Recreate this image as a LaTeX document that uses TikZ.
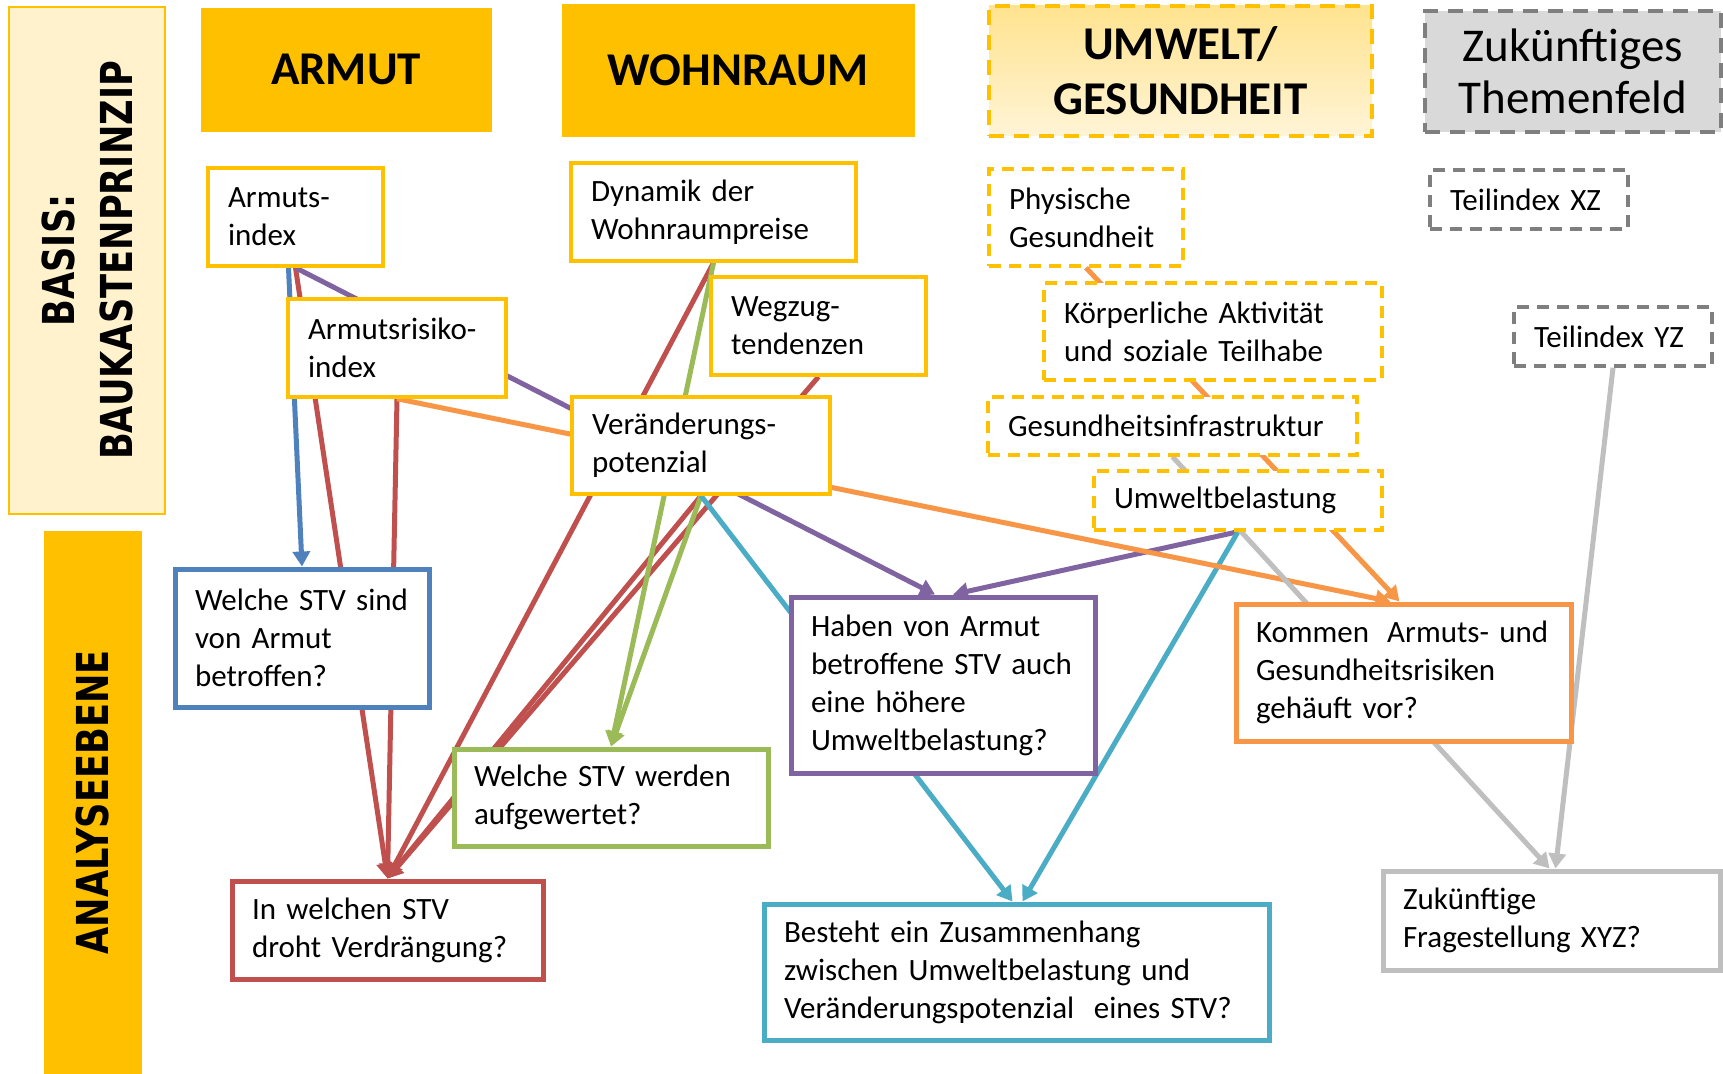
\documentclass[tikz,border=0pt]{standalone}
\usepackage{fontspec}
\setmainfont{Carlito}
\newfontfamily\seitenfont{DejaVu Sans}[FakeStretch=0.8]
\usetikzlibrary{arrows.meta}

\definecolor{cGold}{HTML}{FFC000}
\definecolor{cBasis}{HTML}{FFF2CC}
\definecolor{cUmweltA}{HTML}{FFE38F}
\definecolor{cUmweltB}{HTML}{FFF4D6}
\definecolor{cGrauFill}{HTML}{D9D9D9}
\definecolor{cGrauDash}{HTML}{7F7F7F}
\definecolor{cGrau}{HTML}{BFBFBF}
\definecolor{cBlau}{HTML}{4F81BD}
\definecolor{cRot}{HTML}{C0504D}
\definecolor{cGruen}{HTML}{9BBB59}
\definecolor{cLila}{HTML}{8064A2}
\definecolor{cTuerkis}{HTML}{4BACC6}
\definecolor{cOrange}{HTML}{F79646}

\pgfdeclarelayer{background}
\pgfsetlayers{background,main}

\begin{document}
\begin{tikzpicture}[x=0.5pt,y=-0.5pt,>={Triangle[length=7.5pt,width=8.5pt]}]

\tikzstyle{kopf}=[fill=cGold,draw=cGold,align=center,font=\fontsize{23.5}{27.5}\selectfont\bfseries]
\tikzstyle{seite}=[rotate=90,align=center,font=\seitenfont\bfseries\fontsize{22}{29}\selectfont]
\tikzstyle{teil}=[draw=cGold,fill=white,line width=1.75pt,inner xsep=10pt,inner ysep=0pt,align=left,font=\fontsize{15.5}{19}\selectfont]
\tikzstyle{teilgestr}=[teil,dash pattern=on 6pt off 4pt]
\tikzstyle{frage}=[teil,line width=2.5pt]
\tikzstyle{pfeil}=[->,line width=2.5pt]

\newcommand{\verbinde}[4]{
    \draw[pfeil,#1] (#2) -- ([xshift=#4]#3.north);
}

\useasboundingbox (0,0) rectangle (1723,1074);

% Seitenleiste
\node[seite,fill=cBasis,draw=cGold,line width=1pt,minimum width=253.5pt,minimum height=78pt] (basis) at (87,260.5) {BASIS:\\BAUKASTENPRINZIP};
\node[seite,fill=cGold,draw=cGold,minimum width=271.5pt,minimum height=48.5pt] (analyse) at (92.5,802.5) {ANALYSEEBENE};

% Themenfelder
\node[kopf,minimum width=145pt,minimum height=61.5pt] (armut) at (346,69.5) {ARMUT};
\node[kopf,minimum width=176pt,minimum height=66pt] (wohnraum) at (738,70) {WOHNRAUM};
\node[kopf,line width=2pt,dash pattern=on 7.5pt off 5pt,top color=cUmweltA,bottom color=cUmweltB,minimum width=191.5pt,minimum height=65pt] (umwelt) at (1180.5,71) {UMWELT/\\GESUNDHEIT};
\node[kopf,fill=cGrauFill,draw=cGrauDash,line width=2pt,dash pattern=on 7.5pt off 5pt,font=\fontsize{23.5}{26}\selectfont,minimum width=148pt,minimum height=60.5pt] (zukunft) at (1573,71.5) {Zukünftiges\\Themenfeld};

% Teilindizes
\node[teil,text width=67.5pt,minimum height=49pt] (armidx) at (295.5,217) {Armuts-\\index};
\node[teil,text width=89pt,minimum height=49pt] (risidx) at (397,348) {Armutsrisiko-\\index};
\node[teil,text width=122.5pt,minimum height=49pt] (dynamik) at (713.5,212) {Dynamik der\\Wohnraumpreise};
\node[teil,text width=87.5pt,minimum height=49pt] (wegzug) at (818.5,326) {Wegzug-\\tendenzen};
\node[teil,text width=109pt,minimum height=48.5pt] (potenzial) at (701,445.5) {Veränderungs-\\potenzial};
\node[teilgestr,text width=77pt,minimum height=48.5pt] (physis) at (1086,217.5) {Physische\\Gesundheit};
\node[teilgestr,text width=149pt,minimum height=48.5pt] (koerper) at (1213,331.5) {Körperliche Aktivität\\und soziale Teilhabe};
\node[teilgestr,text width=164.5pt,minimum height=29pt] (infra) at (1172.5,426) {Gesundheitsinfrastruktur};
\node[teilgestr,text width=124pt,minimum height=29.5pt] (umweltb) at (1238,500.5) {Umweltbelastung};
\node[teilgestr,draw=cGrauDash,text width=79pt,minimum height=29.5pt] (xz) at (1529,199.5) {Teilindex XZ};
\node[teilgestr,draw=cGrauDash,text width=79pt,minimum height=29.5pt] (yz) at (1613,336.5) {Teilindex YZ};

% Fragestellungen
\node[frage,draw=cBlau,text width=107pt,minimum height=69pt] (armfrage) at (302,638) {Welche STV sind\\von Armut\\betroffen?};
\node[frage,draw=cRot,text width=135.5pt,minimum height=49pt] (verdr) at (387.5,930) {In welchen STV\\droht Verdrängung?};
\node[frage,draw=cGruen,text width=137pt,minimum height=48.5pt] (aufw) at (611,797.5) {Welche STV werden\\aufgewertet?};
\node[frage,draw=cLila,text width=132pt,minimum height=88pt] (haben) at (943,685) {Haben von Armut\\betroffene STV auch\\eine höhere\\Umweltbelastung?};
\node[frage,draw=cTuerkis,text width=232.5pt,minimum height=68pt] (besteht) at (1016.5,972) {Besteht ein Zusammenhang\\zwischen Umweltbelastung und\\Veränderungspotenzial\hspace{0.3em} eines STV?};
\node[frage,draw=cOrange,text width=147.5pt,minimum height=68.5pt] (kommen) at (1403.5,672.5) {Kommen\hspace{0.25em} Armuts- und\\Gesundheitsrisiken\\gehäuft vor?};
\node[frage,draw=cGrau,text width=148.5pt,minimum height=49.5pt] (zfrage) at (1551.5,920.5) {Zukünftige\\Fragestellung XYZ?};

\begin{pgfonlayer}{background}
    \fill[white] (0,0) rectangle (1723,1074);

    \foreach \von in {armidx,risidx,dynamik,wegzug,potenzial}
    {
        \draw[pfeil,cRot] (\von.south) -- (verdr.north);
    }

    \foreach \von in {dynamik,potenzial}
    {
        \draw[pfeil,cGruen] (\von.south) -- (aufw.north);
    }

    \verbinde{cBlau}{[xshift=-3.5pt]armidx.south}{armfrage}{0pt}

    \verbinde{cLila}{armidx.south}{haben}{-4pt}
    \verbinde{cLila}{umweltb.south}{haben}{5pt}

    \verbinde{cTuerkis}{potenzial.south}{besteht}{-2pt}
    \verbinde{cTuerkis}{umweltb.south}{besteht}{3pt}

    \verbinde{cOrange}{risidx.south}{kommen}{-6.5pt}
    \verbinde{cOrange}{physis.south}{kommen}{-2pt}

    \verbinde{cGrau}{infra.south}{zfrage}{-1pt}
    \verbinde{cGrau}{yz.south}{zfrage}{2pt}
\end{pgfonlayer}

\end{tikzpicture}
\end{document}
